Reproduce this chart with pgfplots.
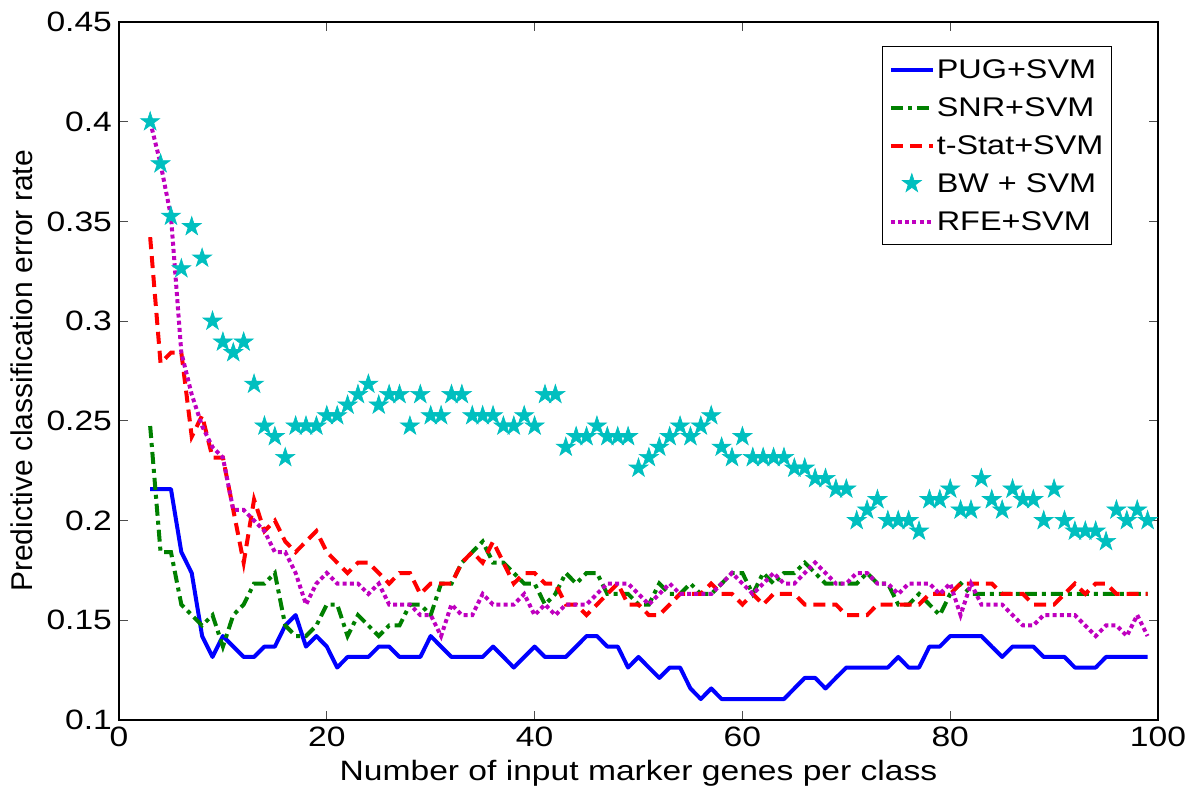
\documentclass[border=0pt]{standalone}
\usepackage{fontspec}
\setmainfont{Liberation Sans}[FakeStretch=1.2]
\newfontfamily\ylabfont{Liberation Sans}
\usepackage{pgfplots}
\usepackage{pgfplotstable}
\pgfplotsset{compat=1.18}
\usetikzlibrary{calc}

\definecolor{mblue}{RGB}{0,0,255}
\definecolor{mgreen}{RGB}{0,128,0}
\definecolor{mred}{RGB}{255,0,0}
\definecolor{mcyan}{RGB}{0,191,191}
\definecolor{mmag}{RGB}{191,0,191}

% filled five-pointed star (MATLAB pentagram)
\pgfdeclareplotmark{fstar}{%
  \pgfpathmoveto{\pgfpointpolar{90}{\pgfplotmarksize}}%
  \pgfpathlineto{\pgfpointpolar{126}{0.382\pgfplotmarksize}}%
  \pgfpathlineto{\pgfpointpolar{162}{\pgfplotmarksize}}%
  \pgfpathlineto{\pgfpointpolar{198}{0.382\pgfplotmarksize}}%
  \pgfpathlineto{\pgfpointpolar{234}{\pgfplotmarksize}}%
  \pgfpathlineto{\pgfpointpolar{270}{0.382\pgfplotmarksize}}%
  \pgfpathlineto{\pgfpointpolar{306}{\pgfplotmarksize}}%
  \pgfpathlineto{\pgfpointpolar{342}{0.382\pgfplotmarksize}}%
  \pgfpathlineto{\pgfpointpolar{18}{\pgfplotmarksize}}%
  \pgfpathlineto{\pgfpointpolar{54}{0.382\pgfplotmarksize}}%
  \pgfpathclose
  \pgfusepathqfillstroke
}

% x  PUG  SNR  tStat  BW  RFE  (error rates)
\pgfplotstableread{
x  pug   snr   tstat bw    rfe
3  .2158 .2474 .3421 .4000 .4000
4  .2158 .1842 .2789 .3789 .3789
5  .2158 .1842 .2842 .3526 .3526
6  .1842 .1579 .2842 .3263 .2842
7  .1737 .1526 .2421 .3474 .2632
8  .1421 .1474 .2526 .3316 .2474
9  .1316 .1526 .2316 .3000 .2368
10 .1421 .1368 .2316 .2895 .2316
11 .1368 .1526 .2053 .2842 .2053
12 .1316 .1579 .1789 .2895 .2053
13 .1316 .1684 .2105 .2684 .2000
14 .1368 .1684 .1947 .2474 .1947
15 .1368 .1737 .2000 .2421 .1842
16 .1474 .1474 .1895 .2316 .1842
17 .1526 .1421 .1842 .2474 .1737
18 .1368 .1421 .1895 .2474 .1579
19 .1421 .1474 .1947 .2474 .1684
20 .1368 .1579 .1842 .2526 .1737
21 .1263 .1579 .1789 .2526 .1684
22 .1316 .1421 .1737 .2579 .1684
23 .1316 .1526 .1789 .2632 .1684
24 .1316 .1474 .1789 .2684 .1632
25 .1368 .1421 .1737 .2579 .1684
26 .1368 .1474 .1684 .2632 .1579
27 .1316 .1474 .1737 .2632 .1579
28 .1316 .1579 .1737 .2474 .1579
29 .1316 .1579 .1632 .2632 .1526
30 .1421 .1526 .1684 .2526 .1526
31 .1368 .1684 .1684 .2526 .1421
32 .1316 .1684 .1684 .2632 .1579
33 .1316 .1789 .1789 .2632 .1526
34 .1316 .1842 .1842 .2526 .1526
35 .1316 .1895 .1789 .2526 .1632
36 .1368 .1789 .1895 .2526 .1579
37 .1316 .1789 .1789 .2474 .1579
38 .1263 .1737 .1684 .2474 .1579
39 .1316 .1684 .1737 .2526 .1632
40 .1368 .1684 .1737 .2474 .1526
41 .1316 .1579 .1684 .2632 .1579
42 .1316 .1632 .1684 .2632 .1526
43 .1316 .1737 .1579 .2368 .1579
44 .1368 .1684 .1579 .2421 .1579
45 .1421 .1737 .1526 .2421 .1579
46 .1421 .1737 .1579 .2474 .1632
47 .1368 .1632 .1632 .2421 .1684
48 .1368 .1632 .1684 .2421 .1684
49 .1263 .1632 .1579 .2421 .1684
50 .1316 .1579 .1579 .2263 .1632
51 .1263 .1579 .1526 .2316 .1579
52 .1211 .1684 .1526 .2368 .1632
53 .1263 .1632 .1579 .2421 .1684
54 .1263 .1632 .1632 .2474 .1632
55 .1158 .1684 .1632 .2421 .1632
56 .1105 .1632 .1632 .2474 .1632
57 .1158 .1632 .1684 .2526 .1632
58 .1105 .1684 .1632 .2368 .1684
59 .1105 .1737 .1632 .2316 .1737
60 .1105 .1737 .1579 .2421 .1684
61 .1105 .1632 .1632 .2316 .1632
62 .1105 .1737 .1579 .2316 .1684
63 .1105 .1684 .1632 .2316 .1737
64 .1105 .1737 .1632 .2316 .1684
65 .1158 .1737 .1632 .2263 .1684
66 .1211 .1789 .1579 .2263 .1737
67 .1211 .1737 .1579 .2211 .1789
68 .1158 .1684 .1579 .2211 .1737
69 .1211 .1684 .1579 .2158 .1684
70 .1263 .1684 .1526 .2158 .1684
71 .1263 .1684 .1526 .2000 .1737
72 .1263 .1737 .1526 .2053 .1737
73 .1263 .1684 .1579 .2105 .1684
74 .1263 .1684 .1579 .2000 .1684
75 .1316 .1579 .1579 .2000 .1632
76 .1263 .1579 .1579 .2000 .1684
77 .1263 .1632 .1579 .1947 .1684
78 .1368 .1579 .1632 .2105 .1684
79 .1368 .1526 .1632 .2105 .1632
80 .1421 .1632 .1632 .2158 .1684
81 .1421 .1684 .1684 .2053 .1526
82 .1421 .1632 .1684 .2053 .1684
83 .1421 .1632 .1684 .2211 .1579
84 .1368 .1632 .1684 .2105 .1579
85 .1316 .1632 .1632 .2053 .1579
86 .1368 .1632 .1632 .2158 .1526
87 .1368 .1632 .1632 .2105 .1474
88 .1368 .1632 .1579 .2105 .1474
89 .1316 .1632 .1579 .2000 .1526
90 .1316 .1632 .1579 .2158 .1526
91 .1316 .1632 .1632 .2000 .1526
92 .1263 .1632 .1684 .1947 .1526
93 .1263 .1632 .1632 .1947 .1474
94 .1263 .1632 .1684 .1947 .1421
95 .1316 .1632 .1684 .1895 .1474
96 .1316 .1632 .1632 .2053 .1474
97 .1316 .1632 .1632 .2000 .1421
98 .1316 .1632 .1632 .2053 .1526
99 .1316 .1632 .1632 .2000 .1421
}\errtab

\pgfplotsset{
  legend image code/.code={\draw[mark repeat=2,mark phase=2,#1]
    plot coordinates {(0pt,0pt) (10.5pt,0pt) (21pt,0pt)};},
}

\begin{document}
\begin{tikzpicture}
\begin{axis}[name=ax,
  scale only axis, width=519.5pt, height=349pt,
  xmin=0, xmax=100, ymin=0.1, ymax=0.45,
  xtick={0,20,...,100}, ytick={0.1,0.15,...,0.45},
  scaled y ticks=false,
  /pgf/number format/assume math mode=true,
  yticklabel style={/pgf/number format/fixed,/pgf/number format/precision=2},
  tick label style={font=\fontsize{14}{16}\selectfont},
  xlabel style={font=\fontsize{14}{16}\selectfont},
  ylabel style={font=\ylabfont\fontsize{15}{17}\selectfont},
  xlabel={Number of input marker genes per class},
  ylabel={Predictive classification error rate},
  tick align=inside, major tick length=4.5pt,
  tick style={black!70, line width=0.6pt},
  axis line style={line width=1pt},
  legend style={at={(0.9557,0.9656)}, anchor=north east, draw=black, line width=0.6pt,
    font=\fontsize{13.5}{16}\selectfont, legend cell align=left,
    inner xsep=3pt, inner ysep=2pt, row sep=0pt,
    nodes={inner sep=1pt, text height=13pt, text depth=4pt}},
]
\addplot[mblue, line width=2pt, line join=round] table[x=x,y=pug] {\errtab};
\addlegendentry{PUG+SVM}
\addplot[mgreen, line width=2pt, dash pattern=on 6pt off 2.5pt on 2pt off 2.5pt] table[x=x,y=snr] {\errtab};
\addlegendentry{SNR+SVM}
\addplot[mred, line width=2pt, dash pattern=on 6pt off 3.5pt] table[x=x,y=tstat] {\errtab};
\addlegendentry{t-Stat+SVM}
\addplot[only marks, mcyan, mark=fstar, mark size=5pt, mark options={fill=mcyan, line width=0.3pt}] table[x=x,y=bw] {\errtab};
\addlegendentry{BW + SVM}
\addplot[mmag, line width=2pt, dash pattern=on 2pt off 1.6pt] table[x=x,y=rfe] {\errtab};
\addlegendentry{RFE+SVM}
\end{axis}
\pgfresetboundingbox
\path[use as bounding box] ($(ax.south west)+(-59.5pt,-34.5pt)$) rectangle ($(ax.north east)+(18pt,11pt)$);
\end{tikzpicture}
\end{document}
